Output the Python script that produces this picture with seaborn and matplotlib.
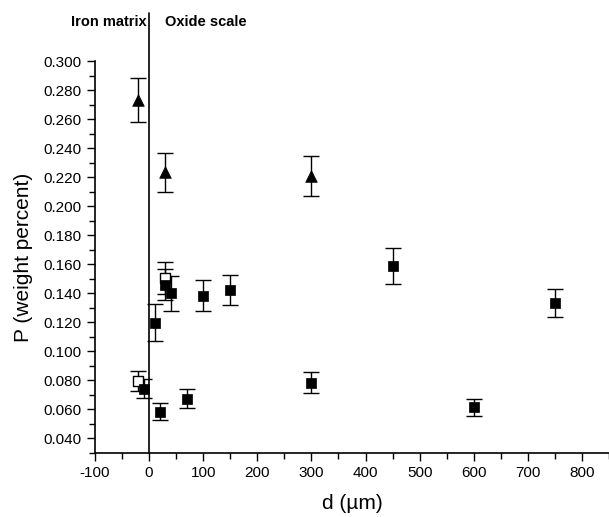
import pandas as pd
import seaborn as sns
import matplotlib.pyplot as plt
from matplotlib.ticker import MultipleLocator, FormatStrFormatter

# filled squares
d_fill = [-10, 10, 20, 30, 40, 70, 100, 150, 300, 450, 600, 750]
p_fill = [0.0743, 0.1196, 0.0584, 0.146, 0.140, 0.0674, 0.1384, 0.1425, 0.0782, 0.1588, 0.0613, 0.1332]
e_fill = [0.0063, 0.0127, 0.0058, 0.0110, 0.0120, 0.0065, 0.0104, 0.0103, 0.0072, 0.0124, 0.0061, 0.0098]

# open squares
d_open = [-20, 30]
p_open = [0.0795, 0.1505]
e_open = [0.0069, 0.0112]

# triangles
d_tri = [-20, 30, 300]
p_tri = [0.273, 0.2232, 0.2208]
e_tri = [0.0150, 0.0135, 0.0137]

sns.set_theme(style='ticks', rc={'axes.edgecolor': 'black', 'text.color': 'black',
                                 'xtick.color': 'black', 'ytick.color': 'black',
                                 'axes.labelcolor': 'black'})
plt.rcParams['font.family'] = ['Liberation Sans', 'DejaVu Sans']
plt.rcParams['axes.unicode_minus'] = False

fig = plt.figure(figsize=(6.09, 5.17), dpi=100)
ax = fig.add_axes([0.156, 0.124, 0.844, 0.758])

# error bars
for d, p, e in [(d_open, p_open, e_open), (d_fill, p_fill, e_fill), (d_tri, p_tri, e_tri)]:
    ax.errorbar(d, p, yerr=e, fmt='none', ecolor='black', elinewidth=1,
                capsize=5.8, capthick=1, zorder=2)

df_open = pd.DataFrame({'d': d_open, 'P': p_open})
df_fill = pd.DataFrame({'d': d_fill, 'P': p_fill})
df_tri = pd.DataFrame({'d': d_tri, 'P': p_tri})

sns.scatterplot(data=df_open, x='d', y='P', marker='s', s=42, color='white',
                edgecolor='black', linewidth=1, ax=ax, zorder=3)
sns.scatterplot(data=df_fill, x='d', y='P', marker='s', s=42, color='black',
                edgecolor='black', linewidth=0.5, ax=ax, zorder=4)
sns.scatterplot(data=df_tri, x='d', y='P', marker='^', s=70, color='black',
                edgecolor='black', linewidth=0.5, ax=ax, zorder=4)

# boundary line between iron matrix and oxide scale
ax.axvline(0, ymin=0, ymax=1.123, color='black', lw=1.2, clip_on=False, zorder=1)
ax.text(-4, 1.10, 'Iron matrix', transform=ax.get_xaxis_transform(),
        ha='right', va='center', fontsize=10.5, fontweight='bold')
ax.text(30, 1.10, 'Oxide scale', transform=ax.get_xaxis_transform(),
        ha='left', va='center', fontsize=10.5, fontweight='bold')

ax.set_xlim(-100, 850)
ax.set_ylim(0.030, 0.300)
ax.xaxis.set_major_locator(MultipleLocator(100))
ax.xaxis.set_minor_locator(MultipleLocator(50))
ax.set_yticks([0.04 + 0.02 * i for i in range(14)])
ax.yaxis.set_minor_locator(MultipleLocator(0.01))
ax.yaxis.set_major_formatter(FormatStrFormatter('%.3f'))
ax.tick_params(which='major', direction='out', length=6, width=1, labelsize=11)
ax.tick_params(which='minor', direction='out', length=4, width=1)

sns.despine(ax=ax)
ax.spines['left'].set_linewidth(1.2)
ax.spines['bottom'].set_linewidth(1.2)

ax.set_xlabel('d (µm)', fontsize=15, labelpad=10)
ax.set_ylabel('P (weight percent)', fontsize=15, labelpad=8)

fig.savefig('out.png', dpi=100)
